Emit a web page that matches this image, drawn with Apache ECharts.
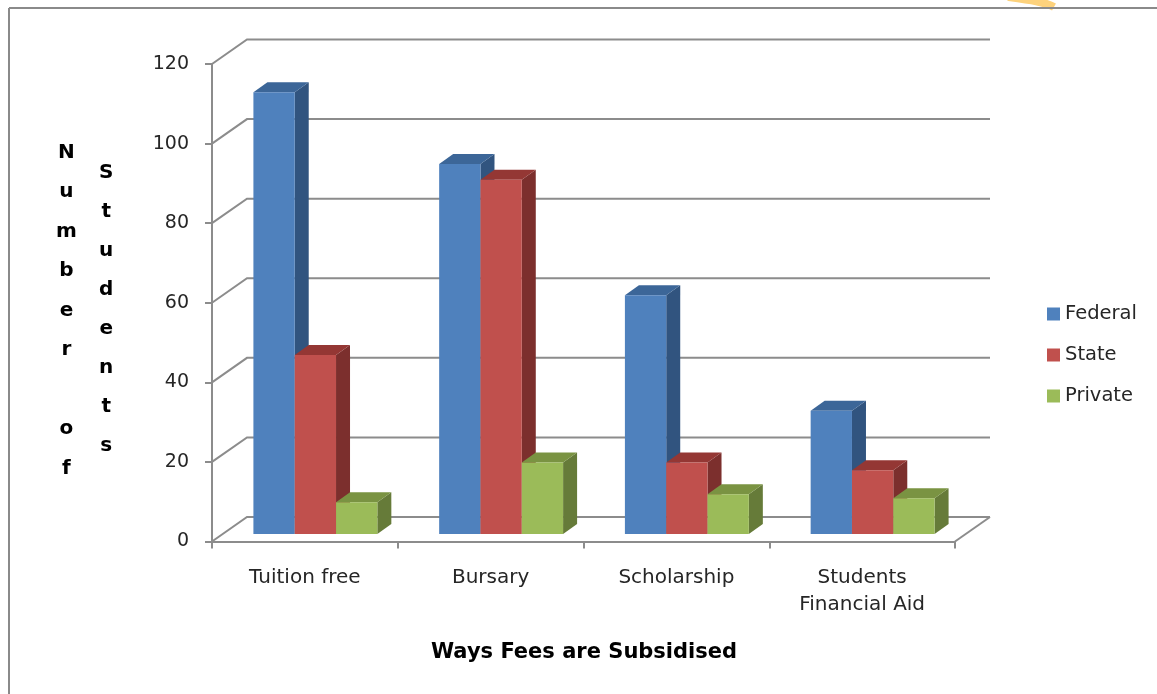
<!DOCTYPE html>
<html>
<head>
<meta charset="utf-8">
<script src="https://cdn.jsdelivr.net/npm/echarts@6/dist/echarts.min.js"></script>
<style>
html,body{margin:0;padding:0;background:#fff;}
#chart{width:1157px;height:694px;}
</style>
</head>
<body>
<div id="chart"></div>
<script>
// ---- data ----
const categories = ['Tuition free', 'Bursary', 'Scholarship', 'Students\nFinancial Aid'];
const seriesNames = ['Federal', 'State', 'Private'];
const federal = [111, 93, 60, 31];
const stateVals = [45, 89, 18, 16];
const privateVals = [8, 18, 10, 9];
const yTicks = [0, 20, 40, 60, 80, 100, 120];
const yTitleCol1 = 'Number of';
const yTitleCol2 = 'Students';
const xTitle = 'Ways Fees are Subsidised';

// ---- styles ----
const FONT = 'DejaVu Sans';
const faceColors = [
  {front: '#4F81BD', side: '#31547F', top: '#3C6698'},
  {front: '#C0504D', side: '#7C2F2D', top: '#943734'},
  {front: '#9BBB59', side: '#667B39', top: '#7A9342'}
];
const GRID_COLOR = '#8C8C8C';
const DEPTH_X = 35, DEPTH_Y = -24.5;     // whole floor depth
const BAR_OFF_X = 10.5, BAR_OFF_Y = -7.5; // bar front plane shift
const BAR_D_X = 14, BAR_D_Y = -10;        // bar depth
const BAR_FRAC = 0.2224;

const chart = echarts.init(document.getElementById('chart'));

function gridRender(params, api) {
  const v = api.value(0);
  const cs = params.coordSys;
  const xl = cs.x, xr = cs.x + cs.width;
  const y = api.coord([0, v])[1];
  const children = [{
    type: 'polyline',
    shape: {points: [[xl, y], [xl + DEPTH_X, y + DEPTH_Y], [xr + DEPTH_X, y + DEPTH_Y]]},
    style: {stroke: GRID_COLOR, lineWidth: 2, fill: null}
  }];
  if (v === 0) {
    children.push({
      type: 'line',
      shape: {x1: xr, y1: y, x2: xr + DEPTH_X, y2: y + DEPTH_Y},
      style: {stroke: GRID_COLOR, lineWidth: 2}
    });
  }
  return {type: 'group', children: children};
}

function barRenderFactory(k) {
  return function (params, api) {
    const i = api.value(0), v = api.value(1);
    const band = api.size([1, 0])[0];
    const w = band * BAR_FRAC;
    const base = api.coord([i, 0]);
    const topPt = api.coord([i, v]);
    const x0 = base[0] - 1.5 * w + k * w + BAR_OFF_X;
    const x1 = x0 + w;
    const yb = base[1] + BAR_OFF_Y;
    const yt = topPt[1] + BAR_OFF_Y;
    const c = faceColors[k];
    return {
      type: 'group',
      children: [
        {type: 'polygon', shape: {points: [[x1, yt], [x1 + BAR_D_X, yt + BAR_D_Y], [x1 + BAR_D_X, yb + BAR_D_Y], [x1, yb]]},
          style: {fill: c.side}},
        {type: 'polygon', shape: {points: [[x0, yt], [x0 + BAR_D_X, yt + BAR_D_Y], [x1 + BAR_D_X, yt + BAR_D_Y], [x1, yt]]},
          style: {fill: c.top}},
        {type: 'rect', shape: {x: x0, y: yt, width: w, height: yb - yt},
          style: {fill: c.front}}
      ]
    };
  };
}

const valueSets = [federal, stateVals, privateVals];

const option = {
  backgroundColor: '#ffffff',
  animation: false,
  grid: {left: 212, right: 202, top: 64, bottom: 152.5, containLabel: false},
  xAxis: {
    type: 'category',
    data: categories,
    axisLine: {show: true, lineStyle: {color: GRID_COLOR, width: 2}},
    axisTick: {show: true, length: 7, lineStyle: {color: GRID_COLOR, width: 2}},
    axisLabel: {fontFamily: FONT, fontSize: 20, color: '#262626', margin: 23, lineHeight: 27},
    splitLine: {show: false}
  },
  yAxis: {
    type: 'value',
    min: 0, max: 120, interval: 20,
    axisLine: {show: true, lineStyle: {color: GRID_COLOR, width: 2}},
    axisTick: {show: true, length: 7, lineStyle: {color: GRID_COLOR, width: 2}},
    axisLabel: {fontFamily: FONT, fontSize: 19, color: '#262626', margin: 23},
    splitLine: {show: false}
  },
  legend: {
    orient: 'vertical',
    left: 1042, top: 299,
    itemWidth: 13, itemHeight: 13,
    itemGap: 21,
    icon: 'rect',
    data: seriesNames,
    textStyle: {fontFamily: FONT, fontSize: 19.5, color: '#262626', lineHeight: 20}
  },
  graphic: [
    {type: 'line', shape: {x1: 9, y1: 8, x2: 1157, y2: 8}, style: {stroke: '#8A8A8A', lineWidth: 2}},
    {type: 'line', shape: {x1: 9, y1: 8, x2: 9, y2: 694}, style: {stroke: '#8A8A8A', lineWidth: 2}},
    {type: 'bezierCurve', shape: {x1: 1008, y1: -3, cpx1: 1030, cpy1: 0, cpx2: 1045, cpy2: 2, x2: 1054, y2: 7},
      style: {stroke: '#FDD27C', lineWidth: 8, fill: null}, z: -1},
    {type: 'text', left: 56, top: 133,
      style: {text: yTitleCol1.split('').join('\n'), font: 'bold 20px "DejaVu Sans"', fill: '#000', lineHeight: 39.5, textAlign: 'center'}},
    {type: 'text', left: 99, top: 153.5,
      style: {text: yTitleCol2.split('').join('\n'), font: 'bold 20px "DejaVu Sans"', fill: '#000', lineHeight: 39, textAlign: 'center'}},
    {type: 'text', x: 584, y: 653,
      style: {text: xTitle, font: 'bold 21px "DejaVu Sans"', fill: '#000', textAlign: 'center', textVerticalAlign: 'middle'}}
  ],
  series: [
    {
      type: 'custom', name: '_grid', z: 1, silent: true,
      renderItem: gridRender,
      data: yTicks.map(v => [v]),
      encode: {y: 0}
    }
  ].concat(seriesNames.map((name, k) => ({
    type: 'custom', name: name, z: 2 + k,
    itemStyle: {color: faceColors[k].front},
    renderItem: barRenderFactory(k),
    data: valueSets[k].map((v, i) => [i, v]),
    encode: {x: 0, y: 1}
  })))
};

chart.setOption(option);
</script>
</body>
</html>
